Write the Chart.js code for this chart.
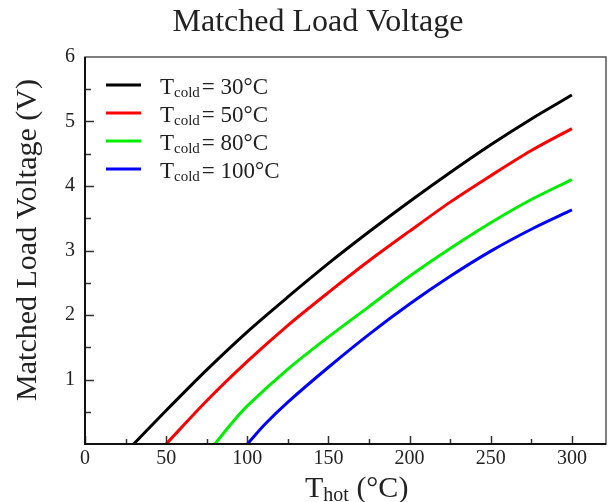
<!DOCTYPE html>
<html>
<head>
<meta charset="utf-8">
<script src="https://cdn.jsdelivr.net/npm/chart.js@4.4.1/dist/chart.umd.min.js"></script>
<style>
  html, body { margin: 0; padding: 0; background: #fff; }
  #wrap { width: 608px; height: 502px; }
</style>
</head>
<body>
<div id="wrap"><canvas id="c" width="608" height="502"></canvas></div>
<script>
// ---- data ----
const chartTitle = 'Matched Load Voltage';
const yTitle = 'Matched Load Voltage (V)';
const xTitleMain = 'T';
const xTitleSub = 'hot';
const xTitleTail = ' (\u00B0C)';
const legendSub = 'cold';

const xTickValues = [0, 50, 100, 150, 200, 250, 300];
const yTickValues = [0, 1, 2, 3, 4, 5, 6];

const seriesLabels = ['= 30\u00B0C', '= 50\u00B0C', '= 80\u00B0C', '= 100\u00B0C'];
const seriesColors = ['#000000', '#ff0000', '#00ee00', '#0000ff'];

const thot30 = [30, 50, 75, 100, 125, 150, 175, 200, 225, 250, 275, 300];
const volt30 = [0, 0.52, 1.15, 1.74, 2.28, 2.80, 3.29, 3.76, 4.21, 4.64, 5.04, 5.41];

const thot50 = [50, 75, 100, 125, 150, 175, 200, 225, 250, 275, 300];
const volt50 = [0, 0.67, 1.28, 1.84, 2.35, 2.84, 3.30, 3.75, 4.16, 4.55, 4.89];

const thot80 = [80, 90, 100, 125, 150, 175, 200, 225, 250, 275, 300];
const volt80 = [0, 0.31, 0.59, 1.16, 1.66, 2.13, 2.60, 3.03, 3.43, 3.79, 4.10];

const thot100 = [100, 111, 125, 150, 175, 200, 225, 250, 275, 300];
const volt100 = [0, 0.31, 0.65, 1.19, 1.70, 2.17, 2.60, 2.99, 3.33, 3.63];

// ---- build ----
const SERIF = '"Liberation Serif", "Times New Roman", serif';
const xs = [thot30, thot50, thot80, thot100];
const ys = [volt30, volt50, volt80, volt100];

const datasets = xs.map((xa, i) => ({
  label: 'Tcold ' + seriesLabels[i],
  data: xa.map((x, k) => ({ x: x, y: ys[i][k] })),
  borderColor: seriesColors[i],
  backgroundColor: seriesColors[i],
  borderWidth: 3,
  pointRadius: 0,
  fill: false,
  tension: 0.3,
  clip: false
}));

const decorPlugin = {
  id: 'decor',
  afterDatasetsDraw(chart) {
    const ctx = chart.ctx;
    const a = chart.chartArea;
    const sx = chart.scales.x, sy = chart.scales.y;
    ctx.save();
    // inward ticks
    ctx.strokeStyle = '#333';
    ctx.lineWidth = 1.5;
    ctx.beginPath();
    for (let v = 0; v <= 300; v += 25) {
      const px = Math.round(sx.getPixelForValue(v)) + 0.5;
      const len = (v % 50 === 0) ? 8 : 5;
      ctx.moveTo(px, a.bottom);
      ctx.lineTo(px, a.bottom - len);
    }
    for (let v = 0.5; v < 6; v += 0.5) {
      const py = Math.round(sy.getPixelForValue(v)) + 0.5;
      const len = (Math.abs(v - Math.round(v)) < 1e-6) ? 9 : 6;
      ctx.moveTo(a.left, py);
      ctx.lineTo(a.left + len, py);
    }
    ctx.stroke();
    // frame
    ctx.strokeStyle = '#555';
    ctx.lineWidth = 1.5;
    ctx.strokeRect(a.left, a.top, a.right - a.left, a.bottom - a.top);
    ctx.strokeStyle = '#111';
    ctx.lineWidth = 2;
    ctx.beginPath();
    ctx.moveTo(a.left, a.top);
    ctx.lineTo(a.left, a.bottom);
    ctx.lineTo(a.right, a.bottom);
    ctx.stroke();

    // main title
    ctx.fillStyle = '#222';
    ctx.font = '32px ' + SERIF;
    ctx.textAlign = 'center';
    ctx.textBaseline = 'alphabetic';
    ctx.fillText(chartTitle, 318, 31);

    // y title (rotated)
    ctx.save();
    ctx.font = '30px ' + SERIF;
    ctx.translate(36, 240);
    ctx.rotate(-Math.PI / 2);
    ctx.textAlign = 'center';
    ctx.fillText(yTitle, 0, 0);
    ctx.restore();

    // x title with subscript
    ctx.textAlign = 'left';
    let x0 = 305;
    const base = 497;
    ctx.font = '30px ' + SERIF;
    ctx.fillText(xTitleMain, x0, base);
    x0 += ctx.measureText(xTitleMain).width;
    ctx.font = '20px ' + SERIF;
    ctx.fillText(xTitleSub, x0, base + 4);
    x0 += ctx.measureText(xTitleSub).width;
    ctx.font = '30px ' + SERIF;
    ctx.fillText(xTitleTail, x0, base);

    // legend
    const rowY = [85, 113, 141, 169];
    chart.data.datasets.forEach((ds, i) => {
      const y = rowY[i];
      ctx.strokeStyle = ds.borderColor;
      ctx.lineWidth = 3;
      ctx.beginPath();
      ctx.moveTo(106, y);
      ctx.lineTo(141, y);
      ctx.stroke();
      ctx.fillStyle = '#222';
      let tx = 160;
      const bl = y + 8.5;
      ctx.font = '23px ' + SERIF;
      ctx.fillText('T', tx, bl);
      tx += ctx.measureText('T').width;
      ctx.font = '15px ' + SERIF;
      ctx.fillText(legendSub, tx, bl + 3.5);
      tx += ctx.measureText(legendSub).width + 2;
      ctx.font = '23px ' + SERIF;
      ctx.fillText(seriesLabels[i], tx, bl);
    });
    ctx.restore();
  }
};

new Chart(document.getElementById('c'), {
  type: 'line',
  data: { datasets: datasets },
  options: {
    responsive: false,
    animation: false,
    devicePixelRatio: 1,
    layout: { padding: { top: 57, right: 2, left: 0, bottom: 0 } },
    plugins: {
      legend: { display: false },
      title: { display: false },
      tooltip: { enabled: false }
    },
    scales: {
      x: {
        type: 'linear',
        position: 'bottom',
        min: 0,
        max: 321,
        afterBuildTicks(scale) { scale.ticks = xTickValues.map(v => ({ value: v })); },
        afterFit(scale) { scale.height = 58; },
        grid: { display: false, drawTicks: false },
        border: { display: false },
        ticks: {
          color: '#222',
          font: { family: SERIF, size: 20 },
          padding: 3,
          maxRotation: 0,
          autoSkip: false,
          callback: (v) => String(v)
        }
      },
      y: {
        type: 'linear',
        min: 0,
        max: 6,
        afterBuildTicks(scale) { scale.ticks = yTickValues.map(v => ({ value: v })); },
        afterFit(scale) { scale.width = 85; },
        grid: { display: false, drawTicks: false },
        border: { display: false },
        ticks: {
          color: '#222',
          font: { family: SERIF, size: 20 },
          padding: 10,
          callback: (v) => (v === 0 ? '' : String(v))
        }
      }
    }
  },
  plugins: [decorPlugin]
});
</script>
</body>
</html>
